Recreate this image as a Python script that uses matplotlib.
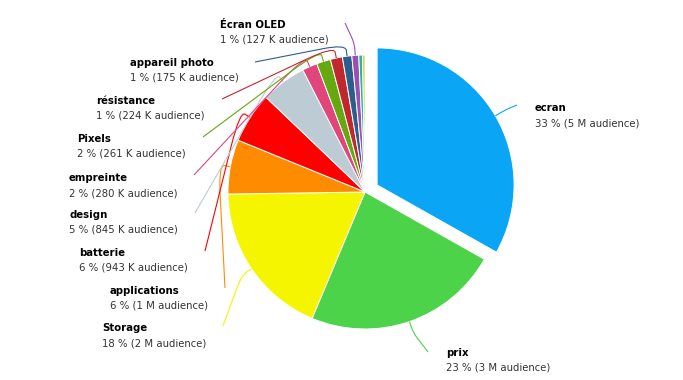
import numpy as np
import matplotlib.pyplot as plt
from matplotlib.path import Path
from matplotlib.patches import PathPatch

topics = ["ecran", "prix", "Storage", "applications", "batterie", "design",
          "empreinte", "Pixels", "résistance", "appareil photo", "Écran OLED", "", ""]
audience_k = [5230, 3650, 2910, 1010, 943, 845, 280, 261, 224, 175, 127, 70, 45]
colors = ["#0aa5f5", "#4cd34a", "#f5f500", "#ff8c00", "#ff0000", "#bccbd4",
          "#e0457b", "#66a80f", "#c0282d", "#2c5e8c", "#9b4fb5", "#2bb59e", "#c8d23c"]

# label layout: text left x, title y, connector end x, connector end y (pixels)
label_pos = {
    "ecran": (535, 108, 517, 105),
    "prix": (446, 353, 428, 352),
    "Storage": (102, 328, 223, 326),
    "applications": (110, 291, 225, 288),
    "batterie": (79, 253, 205, 251),
    "design": (69, 215, 195, 213),
    "empreinte": (69, 178, 194, 175),
    "Pixels": (77, 139, 203, 137),
    "résistance": (96, 101, 222, 99),
    "appareil photo": (130, 63, 255, 62),
    "Écran OLED": (220, 25, 345, 23),
}

W, H = 683, 380
fig = plt.figure(figsize=(W / 100, H / 100), dpi=100)
ax = fig.add_axes([0, 0, 1, 1])

total = sum(audience_k)
explode = [14] + [0] * (len(audience_k) - 1)   # pie explode is in data units here
wedges, _ = ax.pie(audience_k, colors=colors, explode=explode, center=(365, 192),
                   radius=137, startangle=-90, counterclock=True,
                   wedgeprops=dict(edgecolor="white", linewidth=0.7))
ax.set_xlim(0, W)
ax.set_ylim(H, 0)
ax.set_aspect("equal")
ax.axis("off")

for w, name, v, col in zip(wedges, topics, audience_k, colors):
    if not name:
        continue
    pct = round(v / total * 100)
    aud = f"{int(v // 1000)} M" if v >= 1000 else f"{v} K"
    tx, ty, lx, ly = label_pos[name]
    ax.text(tx, ty, name, fontsize=7.3, fontweight="bold", color="#000000",
            ha="left", va="center")
    ax.text(tx, ty + 15, f"{pct} % ({aud} audience)", fontsize=7.3, color="#333333",
            ha="left", va="center")

    # connector from label to slice edge
    a = np.deg2rad((w.theta1 + w.theta2) / 2)
    cx, cy = w.center
    d = np.array([np.cos(a), np.sin(a)])
    E = np.array([cx, cy]) + w.r * d
    P = np.array([cx, cy]) + (w.r + 12) * d
    L = np.array([lx, ly])
    A = P + (L - P) * 0.25
    B = P + (E - P) * 0.5
    verts = [L, A, P, B, E]
    codes = [Path.MOVETO, Path.LINETO, Path.CURVE3, Path.CURVE3, Path.LINETO]
    ax.add_patch(PathPatch(Path(verts, codes), fill=False, edgecolor=col, lw=0.8))

fig.savefig("out.png", dpi=100, facecolor="white")
